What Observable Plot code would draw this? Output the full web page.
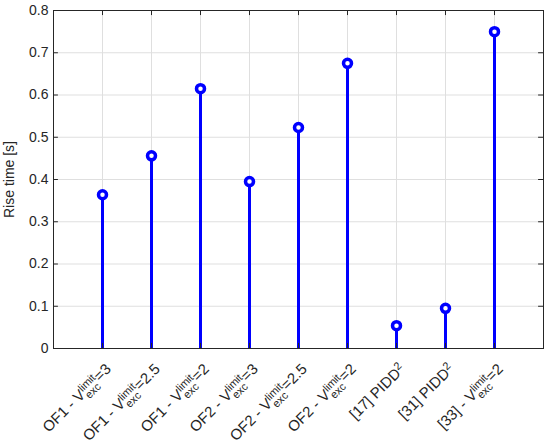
<!DOCTYPE html>
<html><head><meta charset="utf-8">
<script src="https://cdn.jsdelivr.net/npm/d3@7"></script>
<script src="https://cdn.jsdelivr.net/npm/@observablehq/plot@0.6"></script>
<style>body{margin:0;background:#fff}</style>
</head><body><div id="chart"></div>
<script>
const labels = ["OF1 - V^{limit}_{exc}=3", "OF1 - V^{limit}_{exc}=2.5", "OF1 - V^{limit}_{exc}=2", "OF2 - V^{limit}_{exc}=3", "OF2 - V^{limit}_{exc}=2.5", "OF2 - V^{limit}_{exc}=2", "[17] PIDD^{2}", "[31] PIDD^{2}", "[33] - V^{limit}_{exc}=2"];
const riseTime = [0.364, 0.456, 0.615, 0.395, 0.523, 0.675, 0.054, 0.095, 0.750];
const yTicks = [0, 0.1, 0.2, 0.3, 0.4, 0.5, 0.6, 0.7, 0.8];
const positions = labels.map((_, i) => i + 1);
const data = positions.map((p, i) => ({pos: p, value: riseTime[i]}));

const FONT = "Liberation Sans, Arial, Helvetica, sans-serif";
const AX = "#262626";
const GRID = "#dfdfdf";
const BLUE = "#0000ff";

const plot = Plot.plot({
  width: 550, height: 445,
  marginLeft: 53, marginRight: 7, marginTop: 10, marginBottom: 97,
  style: {fontFamily: FONT, fontSize: "14px", color: AX, background: "white"},
  x: {domain: [0, 10]},
  y: {domain: [0, 0.8]},
  marks: [
    Plot.gridX(positions, {stroke: GRID, strokeOpacity: 1}),
    Plot.gridY(yTicks.slice(1, -1), {stroke: GRID, strokeOpacity: 1}),
    Plot.ruleX(data, {x: "pos", y1: 0, y2: "value", stroke: BLUE, strokeWidth: 3}),
    Plot.dot(data, {x: "pos", y: "value", r: 4, stroke: BLUE, strokeWidth: 3.5, fill: "white"}),
    // inward ticks
    Plot.ruleY(yTicks, {y: d => d, x1: 0, x2: 0.1, stroke: AX}),
    Plot.ruleY(yTicks, {y: d => d, x1: 10, x2: 9.9, stroke: AX}),
    Plot.ruleX(positions, {x: d => d, y1: 0, y2: 0.012, stroke: AX}),
    Plot.ruleX(positions, {x: d => d, y1: 0.8, y2: 0.788, stroke: AX}),
    Plot.frame({stroke: AX}),
    Plot.axisY({ticks: yTicks, tickSize: 0, tickPadding: 5, tickFormat: d => String(d), fontSize: 14,
      label: "Rise time [s]", labelArrow: "none", labelAnchor: "center", labelOffset: 49}),
    Plot.axisX({ticks: positions, tickSize: 0, tickPadding: 6, tickRotate: -45, fontSize: 15,
      dx: 6, dy: 12, tickFormat: i => labels[i - 1], label: null})
  ]
});
document.getElementById("chart").appendChild(plot);

// Rich text (super/subscripts) for x tick labels
const ctx = document.createElement("canvas").getContext("2d");
function w(s, size) { ctx.font = size + "px " + FONT; return ctx.measureText(s).width; }
const SMALL = 11;
d3.select(plot).selectAll('g[aria-label="x-axis tick label"] text').each(function(d, i) {
  const el = d3.select(this);
  const src = labels[i];
  el.text("");
  const re = /\^\{([^}]*)\}(?:_\{([^}]*)\})?|([^\^]+)/g;
  let m, base = 0, pendingDx = 0;
  while ((m = re.exec(src))) {
    if (m[3] !== undefined) {
      const t = el.append("tspan").text(m[3]);
      if (base !== 0) t.attr("dy", -base);
      if (pendingDx) t.attr("dx", pendingDx);
      base = 0; pendingDx = 0;
    } else {
      const sup = m[1], sub = m[2];
      el.append("tspan").text(sup).attr("font-size", SMALL).attr("dy", -5 - base);
      base = -5;
      if (sub) {
        const ws = w(sup, SMALL), wb = w(sub, SMALL);
        el.append("tspan").text(sub).attr("font-size", SMALL).attr("dx", -ws).attr("dy", 10);
        base = 5;
        pendingDx = Math.max(ws, wb) - wb;
      }
    }
  }
});
</script>
</body></html>
